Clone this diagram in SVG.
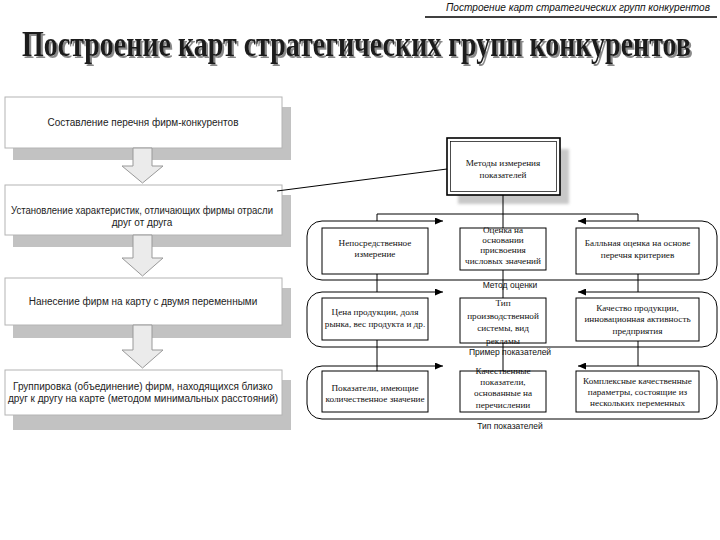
<svg xmlns="http://www.w3.org/2000/svg" width="720" height="540" viewBox="0 0 720 540">
<style>
.lb{fill:#fff;stroke:#b4b4b4;stroke-width:1}
.ls{fill:#c2c2c2}
.lt{font-family:"Liberation Sans",Arial,sans-serif;font-size:10px;fill:#222;text-anchor:middle}
.rb{fill:#fff;stroke:#000;stroke-width:1}
.rt{font-family:"Liberation Serif","Times New Roman",serif;font-size:9.2px;fill:#111;text-anchor:middle}
.cap{font-family:"Liberation Sans",Arial,sans-serif;font-size:8.5px;fill:#111;text-anchor:middle}
.ln{stroke:#000;stroke-width:1;fill:none}
.ba{fill:#ebebeb;stroke:#999;stroke-width:1}
</style>
<defs>
<marker id="ah" viewBox="0 0 8 7" refX="8" refY="3.5" markerWidth="8" markerHeight="7" markerUnits="userSpaceOnUse" orient="auto-start-reverse">
<path d="M0,0 L8,3.5 L0,7 z" fill="#000"/>
</marker>
<filter id="blur" x="-10%" y="-10%" width="120%" height="120%"><feGaussianBlur stdDeviation="1.5"/></filter>
<filter id="tshadow" x="-5%" y="-40%" width="110%" height="180%">
<feOffset in="SourceAlpha" dx="2" dy="1.5" result="o"/>
<feFlood flood-color="#8a8a8a"/>
<feComposite in2="o" operator="in" result="s"/>
<feMerge><feMergeNode in="s"/><feMergeNode in="SourceGraphic"/></feMerge>
</filter>
</defs>
<rect width="720" height="540" fill="#fff"/>

<g id="header">
<text x="446" y="11" font-family="Liberation Sans,Arial,sans-serif" font-style="italic" font-size="10.5" fill="#111" textLength="264" lengthAdjust="spacingAndGlyphs">Построение карт стратегических групп конкурентов</text>
<line x1="425" y1="17" x2="717" y2="17" stroke="#000" stroke-width="1.4"/>
</g>

<g id="title" transform="translate(22,56) scale(1,1.3)">
<text x="0" y="0" font-family="Liberation Serif,Times New Roman,serif" font-weight="bold" font-size="28" fill="#1c1c1c" filter="url(#tshadow)">Построение карт стратегических групп конкурентов</text>
</g>

<g id="step1">
<rect class="ls" x="13" y="107" width="278" height="53"/>
<rect class="lb" x="5" y="97" width="277" height="51"/>
<text class="lt" x="143" y="126">Составление перечня фирм-конкурентов</text>
</g>
<g id="step2">
<rect class="ls" x="13" y="195" width="278" height="52"/>
<rect class="lb" x="5" y="185" width="277" height="50"/>
<text class="lt" x="142" y="214" textLength="262" lengthAdjust="spacingAndGlyphs">Установление характеристик, отличающих фирмы отрасли</text>
<text class="lt" x="142" y="226">друг от друга</text>
</g>
<g id="step3">
<rect class="ls" x="13" y="288" width="278" height="50"/>
<rect class="lb" x="5" y="278" width="277" height="47"/>
<text class="lt" x="143" y="305">Нанесение фирм на карту с двумя переменными</text>
</g>
<g id="step4">
<rect class="ls" x="13" y="380" width="278" height="50"/>
<rect class="lb" x="5" y="370" width="277" height="45"/>
<text class="lt" x="143" y="390">Группировка (объединение) фирм, находящихся близко</text>
<text class="lt" x="143" y="402">друг к другу на карте (методом минимальных расстояний)</text>
</g>

<g id="methods">
<rect x="458" y="149" width="111" height="55" fill="#c8c8c8" filter="url(#blur)"/>
<rect x="447" y="138" width="113" height="57" fill="#fff" stroke="#000" stroke-width="1.6"/>
<rect x="450.5" y="141.5" width="106" height="50" fill="none" stroke="#000" stroke-width="0.7"/>
<text class="rt" x="503" y="166" font-size="10">Методы измерения</text>
<text class="rt" x="503" y="178" font-size="10">показателей</text>
</g>

<g id="c1">
<rect class="rb" x="322" y="228" width="106" height="46"/>
<text class="rt" x="375" y="246">Непосредственное</text>
<text class="rt" x="375" y="257">измерение</text>
<rect class="rb" x="460" y="228" width="86" height="42"/>
<text class="rt" x="503" y="233">Оценка на</text>
<text class="rt" x="503" y="243">основании</text>
<text class="rt" x="503" y="253">присвоения</text>
<text class="rt" x="503" y="264">числовых значений</text>
<rect class="rb" x="576" y="228" width="123" height="46"/>
<text class="rt" x="637.5" y="246">Балльная оценка на основе</text>
<text class="rt" x="637.5" y="258">перечня критериев</text>
<text class="cap" x="510" y="288">Метод оценки</text>
</g>
<g id="c2">
<rect class="rb" x="322" y="298" width="106" height="42"/>
<text class="rt" x="375" y="315">Цена продукции, доля</text>
<text class="rt" x="375" y="327">рынка, вес продукта и др.</text>
<rect class="rb" x="460" y="298" width="86" height="45"/>
<text class="rt" x="503" y="306">Тип</text>
<text class="rt" x="503" y="319">производственной</text>
<text class="rt" x="503" y="331">системы, вид</text>
<text class="rt" x="503" y="344">рекламы</text>
<rect class="rb" x="576" y="298" width="123" height="43"/>
<text class="rt" x="637.5" y="311">Качество продукции,</text>
<text class="rt" x="637.5" y="322">инновационная активность</text>
<text class="rt" x="637.5" y="334">предприятия</text>
<text class="cap" x="510" y="355">Пример показателей</text>
</g>
<g id="c3">
<rect class="rb" x="322" y="371" width="106" height="41"/>
<text class="rt" x="375" y="391">Показатели, имеющие</text>
<text class="rt" x="375" y="402">количественное значение</text>
<rect class="rb" x="460" y="371" width="86" height="41"/>
<text class="rt" x="503" y="374">Качественные</text>
<text class="rt" x="503" y="385">показатели,</text>
<text class="rt" x="503" y="396">основанные на</text>
<text class="rt" x="503" y="408">перечислении</text>
<rect class="rb" x="576" y="371" width="123" height="41"/>
<text class="rt" x="637.5" y="384">Комплексные качественные</text>
<text class="rt" x="637.5" y="395">параметры, состоящие из</text>
<text class="rt" x="637.5" y="406">нескольких переменных</text>
<text class="cap" x="510" y="429">Тип показателей</text>
</g>

<g id="connectors">
<polygon class="ba" points="133,148 152,148 152,166 163,166 142.5,183 122,166 133,166"/>
<polygon class="ba" points="133,235 152,235 152,258 163,258 142.5,276 122,258 133,258"/>
<polygon class="ba" points="133,325 152,325 152,350 163,350 142.5,368 122,350 133,350"/>
<line class="ln" x1="277" y1="191" x2="447" y2="169"/>
<line class="ln" x1="503" y1="195" x2="503" y2="228"/>
<polyline class="ln" points="377,221 377,214 638,214 638,221"/>
<path class="ln" marker-start="url(#ah)" marker-end="url(#ah)" d="M443,221 H322 A15,15 0 0 0 307,236 V265 A15,15 0 0 0 322,280 H702 A15,15 0 0 0 717,265 V236 A15,15 0 0 0 702,221 H578"/>
<line class="ln" x1="377" y1="274" x2="377" y2="292"/>
<line class="ln" x1="638" y1="274" x2="638" y2="292"/>
<line class="ln" x1="503" y1="270" x2="503" y2="298"/>
<path class="ln" marker-start="url(#ah)" marker-end="url(#ah)" d="M443,292 H322 A15,15 0 0 0 307,307 V332 A15,15 0 0 0 322,347 H702 A15,15 0 0 0 717,332 V307 A15,15 0 0 0 702,292 H578"/>
<line class="ln" x1="377" y1="340" x2="377" y2="371"/>
<line class="ln" x1="638" y1="341" x2="638" y2="366"/>
<line class="ln" x1="503" y1="343" x2="503" y2="371"/>
<path class="ln" marker-start="url(#ah)" marker-end="url(#ah)" d="M443,366 H322 A15,15 0 0 0 307,381 V404 A15,15 0 0 0 322,419 H702 A15,15 0 0 0 717,404 V381 A15,15 0 0 0 702,366 H578"/>
</g>
</svg>
